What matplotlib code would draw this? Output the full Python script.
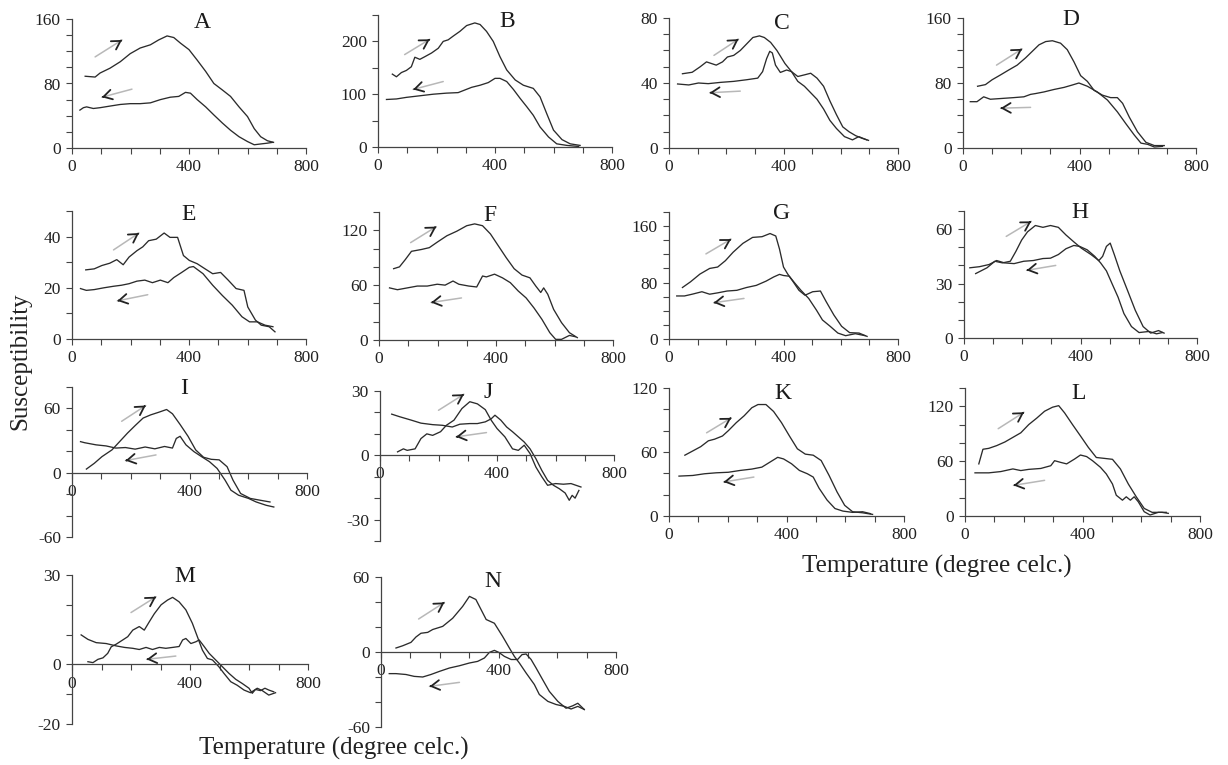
import matplotlib
matplotlib.use("Agg")
import matplotlib.pyplot as plt
from matplotlib.ticker import MultipleLocator
import matplotlib.transforms as mtransforms

plt.rcParams["font.family"] = ["Liberation Serif", "DejaVu Serif"]
plt.rcParams["axes.unicode_minus"] = False

FIG_W, FIG_H = 1228, 765
LINE_COLOR = "#2b2b2b"

# heating (t up) and cooling (t down) curves
a_heat_t = [45, 79, 96, 130, 165, 199, 233, 268, 296, 325, 348, 371, 400, 428, 457, 485, 514, 542, 571, 600, 623, 645, 668, 689]
a_heat_k = [89, 88, 93, 99, 107, 117, 124, 128, 134, 139, 137, 130, 122, 109, 95, 80, 72, 64, 51, 39, 24, 14, 9, 7]
a_cool_t = [686, 668, 645, 623, 600, 571, 542, 514, 485, 457, 428, 405, 388, 365, 336, 302, 268, 233, 199, 165, 130, 96, 73, 50, 39, 27]
a_cool_k = [7, 6, 5, 4, 8, 14, 22, 31, 41, 51, 60, 68, 69, 64, 63, 60, 56, 55, 55, 54, 52, 50, 49, 51, 50, 47]

b_heat_t = [49, 63, 80, 97, 114, 126, 143, 160, 183, 206, 223, 240, 257, 280, 303, 331, 349, 371, 394, 417, 440, 469, 497, 531, 554, 577, 600, 629, 657, 691]
b_heat_k = [138, 133, 141, 145, 152, 170, 166, 171, 178, 187, 200, 203, 210, 219, 230, 235, 232, 219, 200, 171, 146, 127, 117, 111, 95, 63, 32, 14, 6, 3]
b_cool_t = [686, 646, 611, 583, 554, 531, 509, 486, 463, 440, 417, 400, 377, 349, 320, 297, 274, 234, 189, 143, 97, 63, 29]
b_cool_k = [1, 3, 6, 19, 38, 60, 76, 92, 109, 124, 130, 130, 122, 117, 113, 108, 103, 102, 100, 97, 94, 91, 90]

c_heat_t = [47, 81, 109, 131, 148, 165, 187, 204, 226, 249, 271, 293, 316, 333, 355, 377, 405, 428, 450, 473, 495, 517, 540, 562, 585, 607, 629, 652, 674, 697]
c_heat_k = [45.7, 46.6, 50, 53, 52, 51, 53, 56, 57, 60, 64, 68, 69, 68, 65, 60, 52, 47, 44, 45, 46, 43, 38, 29, 20.5, 13, 10, 7.6, 6, 4.7]
c_cool_t = [691, 663, 641, 613, 585, 562, 540, 517, 495, 473, 450, 428, 411, 389, 372, 361, 352, 341, 327, 310, 271, 226, 181, 137, 103, 69, 30]
c_cool_k = [5, 7, 5, 7, 12, 17, 24, 30, 34, 38, 41, 47, 48, 46.5, 51, 58.5, 59.5, 55, 47, 43, 42, 41, 40.4, 39.6, 40, 38.8, 39.4]

d_heat_t = [50, 77, 100, 129, 157, 186, 215, 238, 261, 284, 307, 335, 358, 381, 404, 427, 450, 479, 507, 530, 548, 571, 599, 628, 657, 691]
d_heat_k = [76, 78, 84, 90, 96, 102, 111, 119, 127, 131, 132, 129, 121, 106, 89, 82, 71, 65, 62, 62, 55, 38, 20, 7, 3, 3]
d_cool_t = [685, 657, 634, 611, 588, 559, 530, 496, 461, 427, 398, 375, 347, 312, 278, 249, 232, 209, 174, 134, 94, 71, 48, 25]
d_cool_k = [2, 1.2, 4.5, 6, 16, 30, 44.5, 59, 69, 76, 80, 77.5, 74.6, 72, 69, 67, 66, 63, 62, 61, 60, 63, 57, 57]

e_heat_t = [47, 76, 102, 129, 153, 175, 195, 222, 242, 262, 288, 315, 335, 361, 381, 401, 428, 455, 481, 508, 534, 561, 588, 601, 627, 647, 674, 694]
e_heat_k = [27, 27.4, 28.7, 29.6, 31, 29, 32, 34.5, 36, 38.4, 39, 41.4, 39.7, 39.7, 32.6, 30.7, 29.4, 27.4, 25.5, 26, 23, 19.7, 19, 12.5, 7.4, 5.4, 4.8, 2.8]
e_cool_t = [687, 660, 634, 607, 581, 548, 514, 481, 448, 415, 401, 375, 348, 328, 302, 275, 249, 222, 195, 169, 142, 109, 76, 49, 29]
e_cool_k = [4.8, 5.4, 6.7, 6.7, 8.7, 13.2, 17, 21, 25.5, 28.3, 28, 26, 24, 22, 23, 22, 23, 22.6, 21.6, 21, 20.6, 20, 19.3, 19, 19.7]

f_heat_t = [50, 70, 90, 111, 145, 172, 199, 232, 266, 300, 327, 354, 381, 408, 435, 462, 489, 516, 536, 553, 563, 577, 597, 624, 651, 678]
f_heat_k = [78, 80, 88, 97, 99, 101, 107, 114, 119, 125, 127, 125, 116, 103, 90, 78, 71, 68, 59, 52, 57, 50, 33.5, 19, 8, 2.6]
f_cool_t = [671, 651, 624, 604, 584, 557, 530, 503, 476, 449, 422, 395, 367, 354, 334, 307, 273, 253, 226, 199, 165, 131, 97, 63, 36]
f_cool_k = [3.6, 5, 0.7, 0.7, 8, 22.6, 35, 46, 53.6, 62.7, 68, 72, 69, 70, 58, 59, 61, 64.5, 60, 61, 59, 59, 57, 55, 57]

g_heat_t = [47, 75, 108, 142, 170, 197, 224, 258, 292, 325, 353, 373, 386, 400, 414, 434, 454, 475, 502, 529, 549, 576, 603, 631, 664, 692]
g_heat_k = [73, 81, 92, 100, 102, 111, 123, 135.5, 144, 145, 149.5, 146, 127.5, 102, 92.5, 81, 69, 62, 67, 68, 53, 34, 18, 9, 8.4, 3.7]
g_cool_t = [685, 651, 617, 590, 563, 536, 515, 488, 461, 441, 420, 400, 386, 366, 339, 305, 271, 237, 203, 170, 142, 115, 81, 54, 27]
g_cool_k = [4.7, 7.5, 4.7, 8.4, 18, 27, 41, 57.5, 69, 78.5, 89, 90, 91.6, 88, 82, 76, 73, 69, 68, 65.4, 63.5, 67, 63.5, 61, 61]

h_heat_t = [40, 79, 106, 132, 159, 178, 198, 218, 245, 271, 297, 324, 350, 377, 403, 436, 463, 476, 489, 502, 516, 535, 562, 588, 615, 641, 668, 687]
h_heat_k = [35.5, 38.7, 42.3, 41.4, 42.3, 47.7, 54, 58.5, 62, 61, 62, 61, 56.8, 53, 49.5, 46, 42.7, 45, 50.5, 52.3, 46, 37, 26, 15.3, 6.3, 2.7, 4.1, 2.7]
h_cool_t = [681, 661, 635, 601, 575, 549, 529, 509, 489, 469, 449, 423, 397, 377, 350, 324, 297, 271, 238, 205, 172, 139, 112, 86, 53, 20]
h_cool_k = [3, 2.3, 3.6, 3, 6.3, 13.5, 22.5, 29.7, 37, 41.4, 45, 48.6, 50.5, 51, 49.2, 46, 44, 43.8, 42.7, 42.3, 41, 41.4, 42.7, 40.5, 39.3, 38.7]

i_heat_t = [49, 76, 102, 136, 162, 189, 215, 242, 268, 295, 322, 342, 368, 395, 421, 448, 474, 501, 528, 548, 574, 607, 641, 674]
i_heat_k = [3.4, 8.8, 15, 21.3, 29, 37, 44, 51, 54, 56.4, 59, 55, 45, 34, 21.3, 14.4, 12.5, 12, 5.6, -6.9, -19.4, -24, -25.7, -27.3]
i_cool_t = [687, 661, 627, 601, 567, 541, 521, 494, 468, 441, 415, 388, 368, 355, 342, 315, 282, 249, 215, 182, 149, 116, 82, 43, 29]
i_cool_k = [-32, -30.4, -27.3, -24, -21, -16.3, -6.9, 4, 10.3, 15, 19.7, 26, 34, 32, 23, 24.5, 22.3, 24, 22, 23.5, 23, 25, 26, 28, 29]

j_heat_t = [60, 80, 93, 120, 140, 160, 180, 207, 227, 253, 280, 307, 333, 360, 380, 400, 427, 453, 473, 493, 513, 533, 553, 573, 600, 627, 653, 687]
j_heat_k = [1.6, 3, 2.3, 3, 7.8, 10, 9.3, 11, 14, 16.4, 21.8, 25, 24, 21.3, 16.4, 12.5, 8.6, 3, 2.3, 4.7, 0.8, -5.5, -10, -14, -13.2, -13.5, -13.2, -14.8]
j_cool_t = [680, 667, 657, 647, 633, 613, 593, 573, 553, 533, 513, 493, 473, 453, 433, 413, 393, 380, 360, 333, 307, 273, 247, 213, 180, 140, 107, 67, 40]
j_cool_k = [-16.4, -20, -18.7, -21, -17.6, -15.6, -14, -11.7, -7, -1.6, 3, 6.2, 8.6, 11, 13.2, 16.4, 18.7, 17, 15.6, 14.8, 14.8, 14.5, 13.2, 14, 14.3, 15, 16.4, 18, 19.2]

k_heat_t = [54, 81, 108, 134, 155, 182, 202, 229, 256, 282, 303, 330, 356, 383, 410, 437, 464, 491, 518, 545, 572, 598, 625, 659, 693]
k_heat_k = [57, 61, 65, 70.5, 72, 75, 80, 87.5, 94, 101.5, 104.5, 104.5, 98, 87.5, 75, 63, 58, 57, 52, 38, 22.6, 10, 4, 3, 1.5]
k_cool_t = [686, 659, 625, 592, 565, 538, 511, 491, 471, 444, 417, 390, 370, 343, 316, 282, 242, 202, 161, 121, 81, 34]
k_cool_k = [2.2, 4, 3.4, 4.6, 7, 15, 26, 36.5, 39.6, 42.7, 49, 53.5, 55, 50.4, 45.8, 44, 42.7, 41, 40.5, 39.6, 38, 37.4]

l_heat_t = [47, 61, 81, 108, 136, 163, 190, 217, 244, 271, 298, 319, 339, 366, 393, 420, 447, 475, 502, 529, 556, 583, 610, 637, 671, 692]
l_heat_k = [57, 73, 74, 77, 81, 86, 91, 100, 107, 114.6, 119, 120.7, 112.8, 100, 87.6, 75, 64, 63, 62, 51.5, 35, 21, 8.3, 4, 4, 2.9]
l_cool_t = [685, 658, 630, 610, 590, 576, 563, 549, 536, 515, 502, 481, 461, 434, 414, 393, 373, 346, 325, 305, 292, 258, 217, 190, 163, 122, 81, 34]
l_cool_k = [4, 4, 1.1, 4.7, 15.5, 21, 17.3, 21, 17.3, 22.7, 35, 46, 53.3, 60.5, 65, 66.7, 62.3, 57, 58.7, 60.5, 55, 52, 51, 49.7, 51.5, 48.6, 47.2, 47.2]

m_heat_t = [54, 71, 88, 105, 121, 133, 150, 172, 189, 206, 228, 245, 262, 279, 302, 324, 341, 363, 386, 408, 425, 442, 459, 476, 498, 515, 538, 560, 583, 605, 628, 645, 667, 690]
m_heat_k = [0.9, 0.6, 1.7, 2.2, 3.7, 5.9, 6.8, 8.2, 9.3, 11.5, 12.7, 11.5, 14.3, 17, 20, 21.6, 22.5, 21, 18.3, 13.8, 9.3, 4.8, 2, 1.5, -0.8, -3, -5.8, -7, -8.6, -9.5, -8, -8.8, -10.3, -9.5]
m_cool_t = [684, 667, 654, 639, 622, 611, 600, 577, 555, 532, 510, 487, 465, 448, 431, 420, 403, 386, 375, 363, 341, 318, 296, 273, 251, 228, 206, 178, 150, 116, 82, 54, 31]
m_cool_k = [-9.2, -8.6, -8, -8.8, -8.4, -9.7, -8, -6.4, -5, -3, -0.8, 1.5, 3.7, 6, 8.2, 7.6, 7, 8.7, 8.2, 6, 5.7, 5.4, 5.7, 5, 5.7, 5, 5.4, 5.7, 6.2, 7, 7.3, 8.4, 9.9]

n_heat_t = [51, 74, 102, 119, 136, 159, 176, 210, 244, 278, 301, 323, 358, 386, 414, 437, 454, 471, 494, 522, 539, 568, 596, 624, 647, 670, 692]
n_heat_k = [3.2, 5, 7.7, 12, 15, 15.7, 18, 20.5, 27, 36.5, 44.5, 42, 26, 23, 12.5, 3.2, -3.5, -8.8, -16.8, -26, -34, -39.5, -42, -43.5, -45.6, -43.5, -46]
n_cool_t = [692, 670, 653, 630, 602, 573, 550, 528, 511, 494, 480, 465, 443, 420, 401, 386, 369, 352, 329, 301, 267, 233, 199, 170, 142, 113, 85, 51, 28]
n_cool_k = [-46, -41, -43, -45, -39.5, -31.5, -22, -12.8, -6, -1.6, -2.1, -6, -6, -3.5, -0.3, 1.3, -0.3, -4.8, -7.5, -8.8, -11, -12.8, -15.5, -18, -20, -19.5, -18, -17.3, -17.3]

# y-axis range, labelled ticks and minor step for each panel
Y_LIMITS = {"A": (0, 160), "B": (0, 250), "C": (0, 80), "D": (0, 160),
            "E": (0, 50), "F": (0, 140), "G": (0, 180), "H": (0, 70),
            "I": (-60, 80), "J": (-40, 30), "K": (0, 120), "L": (0, 140),
            "M": (-20, 30), "N": (-60, 60)}
Y_TICKS = {"A": [0, 80, 160], "B": [0, 100, 200], "C": [0, 40, 80], "D": [0, 80, 160],
           "E": [0, 20, 40], "F": [0, 60, 120], "G": [0, 80, 160], "H": [0, 30, 60],
           "I": [-60, 0, 60], "J": [-30, 0, 30], "K": [0, 60, 120], "L": [0, 60, 120],
           "M": [-20, 0, 30], "N": [-60, 0, 60]}
Y_MINOR = {"A": 20, "B": 50, "C": 10, "D": 20, "E": 10, "F": 20, "G": 20, "H": 10,
           "I": 20, "J": 10, "K": 20, "L": 20, "M": 10, "N": 20}
X_TICKS = [0, 400, 800]

# pixel box of each axes: x of t=0, x of t=800, top, bottom
BOXES = {"A": (72, 306, 19, 148), "B": (378, 612, 15, 147), "C": (669, 898, 18, 148), "D": (963, 1196, 18, 148),
         "E": (72, 306, 211, 339), "F": (379, 613, 212, 340), "G": (669, 898, 212, 339), "H": (964, 1197, 211, 338),
         "I": (72, 307, 387, 537), "J": (380, 614, 391, 541), "K": (669, 904, 388, 516), "L": (965, 1200, 388, 516),
         "M": (72, 308, 575, 724), "N": (381, 616, 577, 727)}
# panel letter: x in data units, y as axes fraction
LETTER_POS = {"A": (446, 0.97), "B": (441, 0.95), "C": (396, 0.96), "D": (371, 0.985),
              "E": (397, 0.97), "F": (378, 0.97), "G": (393, 0.985), "H": (398, 0.985),
              "I": (383, 0.99), "J": (371, 0.99), "K": (386, 0.96), "L": (385, 0.96),
              "M": (383, 0.99), "N": (381, 0.97)}
# direction arrows (start, end) in data units
HEAT_ARROWS = {"A": ((79, 113), (171, 134)), "B": ((91, 175), (177, 204)), "C": ((157, 57), (243, 67)),
               "D": ((115, 102), (203, 122)), "E": ((142, 34.8), (229, 41.4)), "F": ((108, 106.5), (196, 124)),
               "G": ((129, 120.6), (217, 141.6)), "H": ((145, 56), (231, 64.3)), "I": ((169, 48), (251, 62.7)),
               "J": ((200, 21), (287, 28.5)), "K": ((128, 78), (212, 92)), "L": ((113, 95.5), (201, 113.5)),
               "M": ((200, 17.4), (285, 22.7)), "N": ((128, 26.4), (216, 39.7))}
COOL_ARROWS = {"A": ((205, 73), (102, 63)), "B": ((223, 124), (120, 109)), "C": ((249, 35), (142, 34)),
               "D": ((232, 50), (129, 49)), "E": ((259, 17.3), (155, 14.9)), "F": ((282, 46), (178, 41)),
               "G": ((262, 57.5), (156, 51.4)), "H": ((315, 40), (215, 37.3)), "I": ((286, 16.6), (182, 11.3)),
               "J": ((364, 10.6), (260, 8.6)), "K": ((289, 36.5), (186, 31.9)), "L": ((271, 39), (165, 33.5)),
               "M": ((352, 2.8), (253, 1.7)), "N": ((267, -24.3), (165, -27.5))}

CURVES = {
    "A": (a_heat_t, a_heat_k, a_cool_t, a_cool_k), "B": (b_heat_t, b_heat_k, b_cool_t, b_cool_k),
    "C": (c_heat_t, c_heat_k, c_cool_t, c_cool_k), "D": (d_heat_t, d_heat_k, d_cool_t, d_cool_k),
    "E": (e_heat_t, e_heat_k, e_cool_t, e_cool_k), "F": (f_heat_t, f_heat_k, f_cool_t, f_cool_k),
    "G": (g_heat_t, g_heat_k, g_cool_t, g_cool_k), "H": (h_heat_t, h_heat_k, h_cool_t, h_cool_k),
    "I": (i_heat_t, i_heat_k, i_cool_t, i_cool_k), "J": (j_heat_t, j_heat_k, j_cool_t, j_cool_k),
    "K": (k_heat_t, k_heat_k, k_cool_t, k_cool_k), "L": (l_heat_t, l_heat_k, l_cool_t, l_cool_k),
    "M": (m_heat_t, m_heat_k, m_cool_t, m_cool_k), "N": (n_heat_t, n_heat_k, n_cool_t, n_cool_k),
}


def px_rect(x0, x1, ytop, ybot):
    return [x0 / FIG_W, 1 - ybot / FIG_H, (x1 - x0) / FIG_W, (ybot - ytop) / FIG_H]


def draw_arrow(ax, start, end):
    # grey shaft, dark open head
    ax.annotate("", xy=end, xytext=start,
                arrowprops=dict(arrowstyle="-", color="#b8b8b8", lw=1.1, shrinkA=0, shrinkB=0))
    back = (end[0] - 0.04 * (end[0] - start[0]), end[1] - 0.04 * (end[1] - start[1]))
    ax.annotate("", xy=end, xytext=back,
                arrowprops=dict(arrowstyle="->,head_length=0.6,head_width=0.35",
                                color="#222222", lw=1.3, shrinkA=0, shrinkB=0))


def draw_panel(fig, key):
    ax = fig.add_axes(px_rect(*BOXES[key]))
    heat_t, heat_k, cool_t, cool_k = CURVES[key]
    ax.plot(heat_t, heat_k, color=LINE_COLOR, lw=0.95)
    ax.plot(cool_t, cool_k, color=LINE_COLOR, lw=0.95)

    ax.set_xlim(0, 800)
    ax.set_ylim(*Y_LIMITS[key])
    ax.set_xticks(X_TICKS)
    ax.set_yticks(Y_TICKS[key])
    ax.xaxis.set_minor_locator(MultipleLocator(100))
    ax.yaxis.set_minor_locator(MultipleLocator(Y_MINOR[key]))
    ax.tick_params(which="both", direction="out", length=4, width=0.8, color="#444444",
                   labelsize=12.5, labelcolor="#222222", pad=4)

    for side in ("top", "right"):
        ax.spines[side].set_visible(False)
    for side in ("left", "bottom"):
        ax.spines[side].set_color("#444444")
        ax.spines[side].set_linewidth(0.9)
    if Y_LIMITS[key][0] < 0:
        ax.spines["bottom"].set_position(("data", 0))
    ax.patch.set_visible(False)

    lx, ly = LETTER_POS[key]
    trans = mtransforms.blended_transform_factory(ax.transData, ax.transAxes)
    ax.text(lx, ly, key, transform=trans, ha="center", va="center", fontsize=17, color="#1a1a1a")

    draw_arrow(ax, *HEAT_ARROWS[key])
    draw_arrow(ax, *COOL_ARROWS[key])
    return ax


def main():
    fig = plt.figure(figsize=(FIG_W / 100, FIG_H / 100), dpi=100)
    for key in CURVES:
        draw_panel(fig, key)

    fig.text(20 / FIG_W, 1 - 361 / FIG_H, "Susceptibility", rotation=90,
             ha="center", va="center", fontsize=18, color="#222222")
    fig.text(937 / FIG_W, 1 - 566 / FIG_H, "Temperature (degree celc.)",
             ha="center", va="center", fontsize=18, color="#222222")
    fig.text(334 / FIG_W, 1 - 748 / FIG_H, "Temperature (degree celc.)",
             ha="center", va="center", fontsize=18, color="#222222")

    fig.savefig("out.png", dpi=100, facecolor="white")


if __name__ == "__main__":
    main()
